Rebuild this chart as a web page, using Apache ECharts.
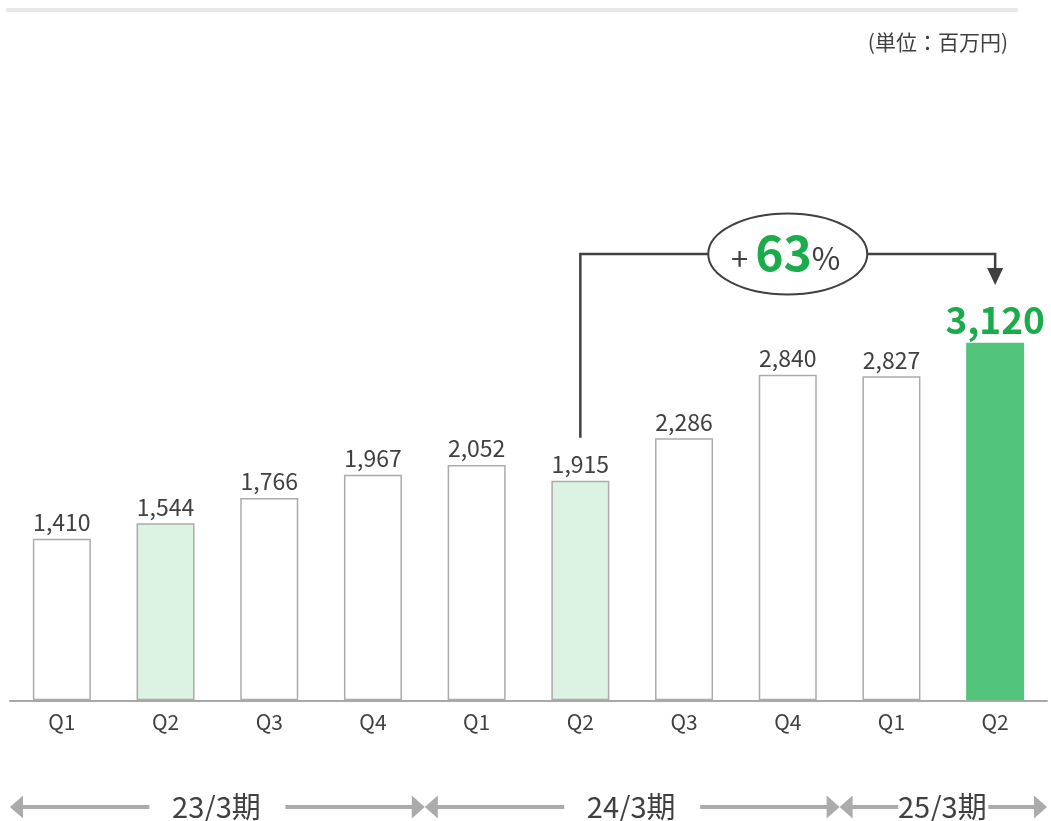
<!DOCTYPE html>
<html><head><meta charset="utf-8">
<script src="https://cdn.jsdelivr.net/npm/echarts@6/dist/echarts.min.js"></script>
<style>html,body{margin:0;padding:0;background:#fff}#c{width:1051px;height:821px}</style>
</head><body><div id="c"></div>
<script>
const categories = ['Q1','Q2','Q3','Q4','Q1','Q2','Q3','Q4','Q1','Q2'];
const values = [1410,1544,1766,1967,2052,1915,2286,2840,2827,3120];
const barKinds = ['plain','light','plain','plain','plain','light','plain','plain','plain','strong'];
const periods = ['23/3期','24/3期','25/3期'];
const periodStart = [0,4,8];
const periodEnd = [3,7,9];
const unitLabel = '(単位：百万円)';
const growthFrom = 5, growthTo = 9;
const growthPct = '63';

const FONT = "'Noto Sans CJK JP','Noto Sans',sans-serif";
const TXT = '#404040';
const GREEN_TXT = '#1aab4b';
const fills = {plain:'#ffffff', light:'#dcf2e3', strong:'#52c57a'};

const chart = echarts.init(document.getElementById('c'), null, {renderer:'canvas'});

const fmt = v => v.toLocaleString('en-US');

const seriesData = values.map((v,i) => {
  const k = barKinds[i];
  const item = {
    value: v,
    itemStyle: {color: fills[k], borderColor: k==='strong' ? fills[k] : '#ababab', borderWidth: k==='strong' ? 0 : 1.5}
  };
  if (k==='strong') {
    item.label = {fontSize: 37, fontWeight: 'bold', color: GREEN_TXT, distance: 4};
  }
  return item;
});

chart.setOption({
  animation: false,
  textStyle: {fontFamily: FONT},
  grid: {left: 10, right: 4, top: 12.6, bottom: 120.7, containLabel: false},
  xAxis: {
    type: 'category', data: categories,
    axisLine: {lineStyle: {color: '#a8a8a8', width: 2}},
    axisTick: {show: false},
    axisLabel: {color: TXT, fontSize: 21, margin: 11, fontFamily: FONT}
  },
  yAxis: {type: 'value', min: 0, max: 6000, show: false, splitLine: {show: false}},
  series: [{
    type: 'bar', data: seriesData, barWidth: 58,
    label: {show: true, position: 'top', color: TXT, fontSize: 23, distance: 5, fontFamily: FONT,
      formatter: p => fmt(p.value)}
  }]
});

function px(i, v) { return chart.convertToPixel({xAxisIndex:0, yAxisIndex:0}, [i, v]); }

const g = [];
// top decorative rule
g.push({type:'rect', shape:{x:6, y:8, width:1012, height:4}, style:{fill:'#e8e8e8'}});
// unit label
g.push({type:'text', x:1008, y:42, style:{text: unitLabel, font: '21px ' + FONT, fill: TXT, align:'right', verticalAlign:'middle'}});

// period arrows
const c0 = px(0,0)[0], c1 = px(1,0)[0];
const bw = c1 - c0;
const ay = 807;
const GRAY = '#ababab';
periods.forEach((name, k) => {
  const L = px(periodStart[k],0)[0] - bw/2;
  const R = px(periodEnd[k],0)[0] + bw/2;
  const mid = (L+R)/2;
  const span = R - L;
  const gap = span > 300 ? 68 : 45;
  const ah = 13, hh = 11.5;
  g.push({type:'polygon', shape:{points:[[L,ay],[L+ah,ay-hh],[L+ah,ay+hh]]}, style:{fill:GRAY}});
  g.push({type:'polygon', shape:{points:[[R,ay],[R-ah,ay-hh],[R-ah,ay+hh]]}, style:{fill:GRAY}});
  g.push({type:'line', shape:{x1:L+ah-1, y1:ay, x2:mid-gap, y2:ay}, style:{stroke:GRAY, lineWidth:4}});
  g.push({type:'line', shape:{x1:mid+gap, y1:ay, x2:R-ah+1, y2:ay}, style:{stroke:GRAY, lineWidth:4}});
  g.push({type:'text', x:mid - 1, y:ay, style:{text:name, font:'29px ' + FONT, fill:TXT, align:'center', verticalAlign:'middle'}});
});

// growth annotation
const pA = px(growthFrom, values[growthFrom]);
const pB = px(growthTo, values[growthTo]);
const hy = 254;
const LINE = '#404040';
g.push({type:'polyline', shape:{points:[[pA[0], pA[1]-43],[pA[0], hy],[pB[0], hy],[pB[0], hy+15]]}, style:{stroke:LINE, lineWidth:2.5, fill:null}});
g.push({type:'polygon', shape:{points:[[pB[0]-8, hy+14],[pB[0]+8, hy+14],[pB[0], hy+31]]}, style:{fill:LINE}});
const ex = (pA[0]+pB[0])/2;
g.push({type:'ellipse', shape:{cx:ex, cy:hy, rx:79.5, ry:40.5}, style:{fill:'#fff', stroke:LINE, lineWidth:2}});
g.push({type:'text', x:ex-2, y:hy-1, style:{
  text:'{s|+ }{b|' + growthPct + '}{s|%}', align:'center', verticalAlign:'middle',
  rich:{
    s:{fontSize:31, fill:TXT, fontFamily:FONT, verticalAlign:'bottom', padding:[0,0,3,0]},
    b:{fontSize:48, fontWeight:'bold', fill:GREEN_TXT, fontFamily:FONT}
  }
}});

chart.setOption({graphic: {elements: g}});
</script>
</body></html>
